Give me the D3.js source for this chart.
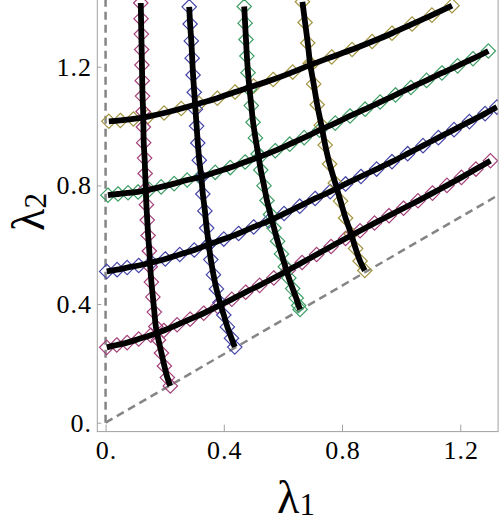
<!DOCTYPE html>
<html>
<head>
<meta charset="utf-8">
<script src="https://cdn.jsdelivr.net/npm/d3@7"></script>
<style>
  body { margin: 0; background: #fff; }
  svg { display: block; }
  .axlab { font-family: "Liberation Serif", "DejaVu Serif", serif; fill: #000; }
  svg .tick text { font-family: "Liberation Serif", "DejaVu Serif", serif; font-size: 26px; letter-spacing: 1px; fill: #000; }
</style>
</head>
<body>
<svg id="chart" width="500" height="522"></svg>
<script>
// plot range (data units) and ticks
const xRange = [-0.028, 1.328];
const yRange = [-0.03, 1.425];
const xTicks = [0, 0.4, 0.8, 1.2];
const xTickLabels = ["0.", "0.4", "0.8", "1.2"];
const yTicks = [0, 0.4, 0.8, 1.2];
const yTickLabels = ["0.", "0.4", "0.8", "1.2"];

// dashed boundaries: lambda1 = 0 and lambda2 = lambda1 / sqrt(3)
const wallLine = [[0, 0], [0, 1.425]];
const diagLine = [[0, 0], [1.328, 0.767]];

// "horizontal" family (start on lambda1 = 0)
const h1 = [[0.004,0.254],[0.038,0.262],[0.073,0.270],[0.112,0.282],[0.153,0.295],[0.197,0.311],[0.242,0.330],[0.286,0.349],[0.332,0.369],[0.379,0.392],[0.427,0.416],[0.474,0.440],[0.521,0.463],[0.569,0.488],[0.618,0.514],[0.665,0.540],[0.714,0.567],[0.763,0.594],[0.812,0.621],[0.861,0.647],[0.910,0.673],[0.959,0.698],[1.008,0.723],[1.057,0.748],[1.106,0.774],[1.155,0.800],[1.204,0.827],[1.253,0.855],[1.302,0.883]];
const h2 = [[0.004,0.510],[0.039,0.516],[0.073,0.523],[0.112,0.530],[0.155,0.540],[0.202,0.552],[0.251,0.567],[0.300,0.582],[0.349,0.601],[0.400,0.619],[0.450,0.638],[0.501,0.660],[0.552,0.680],[0.604,0.705],[0.657,0.730],[0.709,0.756],[0.760,0.779],[0.812,0.805],[0.864,0.830],[0.917,0.855],[0.969,0.880],[1.022,0.907],[1.074,0.934],[1.126,0.961],[1.179,0.988],[1.231,1.015],[1.284,1.042],[1.324,1.064]];
const h3 = [[0.008,0.767],[0.042,0.771],[0.076,0.775],[0.110,0.778],[0.148,0.786],[0.188,0.795],[0.232,0.806],[0.276,0.818],[0.320,0.828],[0.371,0.844],[0.422,0.860],[0.472,0.879],[0.523,0.897],[0.574,0.917],[0.623,0.939],[0.672,0.961],[0.724,0.986],[0.777,1.010],[0.827,1.034],[0.878,1.057],[0.929,1.081],[0.981,1.105],[1.033,1.130],[1.086,1.154],[1.138,1.179],[1.191,1.203],[1.243,1.227],[1.295,1.253]];
const h4 = [[0.011,1.016],[0.050,1.019],[0.094,1.024],[0.143,1.032],[0.198,1.044],[0.256,1.059],[0.317,1.076],[0.378,1.094],[0.438,1.115],[0.501,1.135],[0.567,1.157],[0.633,1.182],[0.695,1.207],[0.765,1.233],[0.834,1.258],[0.902,1.285],[0.969,1.313],[1.037,1.344],[1.104,1.374],[1.172,1.406]];

// "vertical" family (end on the 30 degree line)
const v1 = [[0.119,1.415],[0.120,1.362],[0.121,1.310],[0.122,1.258],[0.123,1.206],[0.124,1.153],[0.125,1.101],[0.127,1.049],[0.128,0.997],[0.129,0.944],[0.132,0.892],[0.134,0.840],[0.136,0.788],[0.138,0.735],[0.141,0.683],[0.144,0.631],[0.148,0.579],[0.151,0.526],[0.155,0.474],[0.160,0.424],[0.165,0.373],[0.170,0.324],[0.179,0.279],[0.189,0.235],[0.199,0.191],[0.209,0.152],[0.219,0.124]];
const v2 = [[0.283,1.402],[0.286,1.344],[0.290,1.287],[0.293,1.229],[0.296,1.172],[0.300,1.114],[0.304,1.057],[0.308,1.000],[0.312,0.943],[0.317,0.885],[0.324,0.828],[0.329,0.771],[0.336,0.714],[0.342,0.656],[0.349,0.602],[0.356,0.550],[0.365,0.499],[0.375,0.451],[0.387,0.405],[0.400,0.363],[0.412,0.323],[0.426,0.285],[0.437,0.255]];
const v3 = [[0.469,1.403],[0.472,1.347],[0.475,1.292],[0.478,1.236],[0.482,1.180],[0.487,1.125],[0.493,1.069],[0.499,1.013],[0.507,0.960],[0.516,0.906],[0.525,0.852],[0.536,0.799],[0.546,0.749],[0.558,0.702],[0.570,0.656],[0.582,0.612],[0.595,0.569],[0.608,0.526],[0.620,0.488],[0.633,0.452],[0.645,0.420],[0.653,0.395],[0.658,0.382]];
const v4 = [[0.666,1.419],[0.675,1.349],[0.684,1.280],[0.692,1.211],[0.704,1.142],[0.716,1.072],[0.730,1.003],[0.743,0.936],[0.758,0.872],[0.777,0.808],[0.795,0.747],[0.812,0.690],[0.831,0.636],[0.846,0.587],[0.861,0.545],[0.877,0.513]];

const seriesColors = ["#a4417b", "#4646a8", "#3f9f66", "#a39541"];
const horizontals = [h1, h2, h3, h4];
const verticals = [v1, v2, v3, v4];

const svg = d3.select("#chart");
const plotLeft = 97.3, plotRight = 498.1, plotTop = 0, plotBottom = 431.6;

const x = d3.scaleLinear().domain(xRange).range([plotLeft, plotRight]);
const y = d3.scaleLinear().domain(yRange).range([plotBottom, plotTop]);

svg.append("clipPath").attr("id", "plotclip")
  .append("rect")
  .attr("x", plotLeft).attr("y", plotTop - 10)
  .attr("width", plotRight - plotLeft).attr("height", plotBottom - plotTop + 10);

const plot = svg.append("g").attr("clip-path", "url(#plotclip)");

const line = d3.line().x(d => x(d[0])).y(d => y(d[1]));
const smooth = d3.line().x(d => x(d[0])).y(d => y(d[1])).curve(d3.curveCatmullRom);

// dashed boundaries
[wallLine, diagLine].forEach(seg => {
  plot.append("path")
    .attr("d", line(seg))
    .attr("fill", "none")
    .attr("stroke", "#858585")
    .attr("stroke-width", 2.5)
    .attr("stroke-dasharray", "8,5");
});

const diamond = "M0,-7.2L7.2,0L0,7.2L-7.2,0Z";

// markers first, black curves on top
const allCurves = [];
horizontals.forEach((s, i) => allCurves.push({ pts: s, color: seriesColors[i] }));
verticals.forEach((s, i) => allCurves.push({ pts: s, color: seriesColors[i] }));

allCurves.forEach(c => {
  plot.append("g").selectAll("path")
    .data(c.pts)
    .join("path")
    .attr("d", diamond)
    .attr("transform", d => `translate(${x(d[0])},${y(d[1])})`)
    .attr("fill", "none")
    .attr("stroke", c.color)
    .attr("stroke-width", 1.2);
});

allCurves.forEach(c => {
  plot.append("path")
    .attr("d", smooth(c.pts))
    .attr("fill", "none")
    .attr("stroke", "#000")
    .attr("stroke-width", 5.8);
});

// frame
svg.append("rect")
  .attr("x", plotLeft).attr("y", plotTop - 2)
  .attr("width", plotRight - plotLeft).attr("height", plotBottom - plotTop + 2)
  .attr("fill", "none")
  .attr("stroke", "#a0a0a0")
  .attr("stroke-width", 1);

// axes
const xAxis = svg.append("g")
  .attr("transform", `translate(0,${plotBottom})`)
  .call(d3.axisBottom(x).tickValues(xTicks)
    .tickFormat((d, i) => xTickLabels[i])
    .tickSizeInner(-7).tickSizeOuter(0).tickPadding(9.4));
xAxis.attr("font-size", null).attr("font-family", null);
xAxis.select(".domain").remove();
xAxis.selectAll(".tick line").attr("stroke", "#a0a0a0");
xAxis.selectAll(".tick text").attr("dx", 0.5);

const yAxis = svg.append("g")
  .attr("transform", `translate(${plotLeft},0)`)
  .call(d3.axisLeft(y).tickValues(yTicks)
    .tickFormat((d, i) => yTickLabels[i])
    .tickSizeInner(-4).tickSizeOuter(0).tickPadding(5.3));
yAxis.attr("font-size", null).attr("font-family", null);
yAxis.select(".domain").remove();
yAxis.selectAll(".tick line").attr("stroke", "#a0a0a0");

// axis labels
const xl = svg.append("text").attr("class", "axlab")
  .attr("x", 296).attr("y", 513)
  .attr("text-anchor", "middle")
  .style("font-size", "46px");
xl.append("tspan").text("λ");
xl.append("tspan").attr("dy", 2).style("font-size", "31px").text("1");

const yl = svg.append("text").attr("class", "axlab")
  .attr("transform", "translate(44,212) rotate(-90)")
  .attr("text-anchor", "middle")
  .style("font-size", "46px");
yl.append("tspan").text("λ");
yl.append("tspan").attr("dy", 2).style("font-size", "31px").text("2");
</script>
</body>
</html>
